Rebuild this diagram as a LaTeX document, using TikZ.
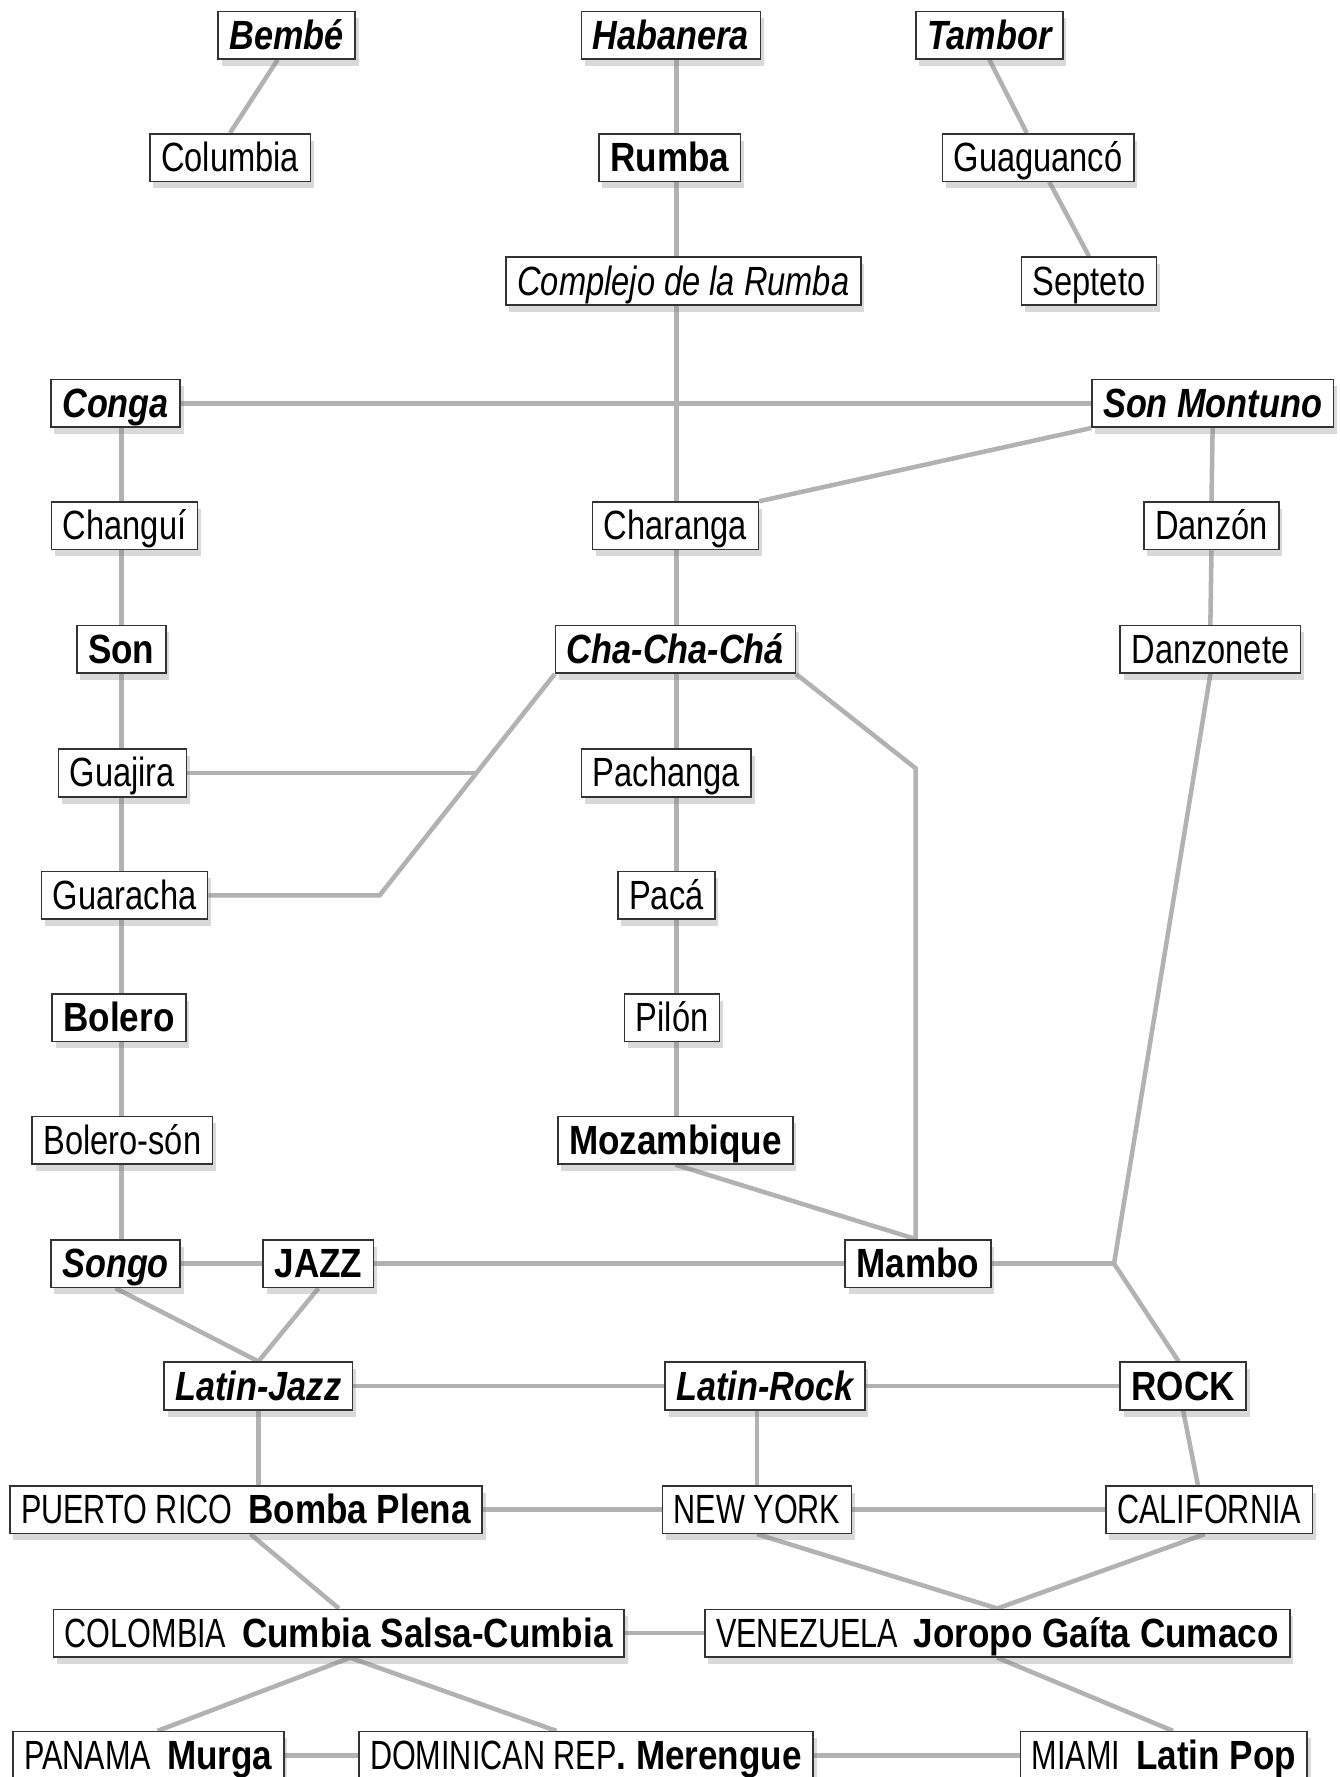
\documentclass[tikz,border=0pt]{standalone}
\usepackage{fontspec}
\setmainfont{Liberation Sans}[
  UprightFeatures={FakeStretch=0.8}, ItalicFeatures={FakeStretch=0.8},
  BoldFeatures={FakeStretch=0.86}, BoldItalicFeatures={FakeStretch=0.84}]
\newfontfamily\placefont{Liberation Sans}[FakeStretch=0.75]
\usetikzlibrary{shadows,backgrounds}

\newcommand\genrefont{\fontsize{18}{20}\selectfont}
\newcommand\region[1]{{\placefont #1}\hspace{7pt}}

\tikzset{
  genre/.style={draw=black!80, line width=0.7pt, fill=white, font=\genrefont,
    inner xsep=5pt, inner ysep=0pt, minimum height=21pt,
    text height=16.7pt, text depth=4.3pt,
    drop shadow={shadow xshift=1.5pt, shadow yshift=-3pt, opacity=0.3}},
  hub/.style={genre, font=\genrefont\bfseries},
  root/.style={genre, font=\genrefont\bfseries\itshape},
  era/.style={genre, font=\genrefont\itshape},
  place/.style={genre, font=\genrefont\placefont},
  link/.style={draw=black!30, line width=2pt},
}

\begin{document}
\begin{tikzpicture}[x=0.5pt, y=-0.5pt]
  \useasboundingbox (0,0) rectangle (1182,1568);

  % top rows
  \node[root] (bembe) at (253,31) {Bembé};
  \node[root] (habanera) at (592,31) {Habanera};
  \node[root] (tambor) at (873,31) {Tambor};
  \node[genre] (columbia) at (203,139) {Columbia};
  \node[hub] (rumba) at (591,139) {Rumba};
  \node[genre] (guaguanco) at (916,139) {Guaguancó};
  \node[era] (complejo) at (603,248) {Complejo de la Rumba};
  \node[genre] (septeto) at (961,248) {Septeto};

  % cuban branches
  \node[root] (conga) at (102,356) {Conga};
  \node[root] (sonmontuno) at (1070,356) {Son Montuno};
  \node[genre] (changui) at (110,464) {Changuí};
  \node[genre] (charanga) at (596,464) {Charanga};
  \node[genre] (danzon) at (1069,464) {Danzón};
  \node[hub] (son) at (107,573) {Son};
  \node[root] (chachacha) at (596,573) {Cha-Cha-Chá};
  \node[genre] (danzonete) at (1068,573) {Danzonete};
  \node[genre] (guajira) at (108,682) {Guajira};
  \node[genre] (pachanga) at (588,682) {Pachanga};
  \node[genre] (guaracha) at (110,790) {Guaracha};
  \node[genre] (paca) at (588,790) {Pacá};
  \node[hub] (bolero) at (105,898) {Bolero};
  \node[genre] (pilon) at (593,898) {Pilón};
  \node[genre] (bolerson) at (108,1006) {Bolero-són};
  \node[hub] (mozambique) at (596,1006) {Mozambique};
  \node[root] (songo) at (102,1115) {Songo};
  \node[hub] (jazz) at (281,1115) {JAZZ};
  \node[hub] (mambo) at (810,1115) {Mambo};

  % crossovers
  \node[root] (latinjazz) at (228,1223) {Latin-Jazz};
  \node[root] (latinrock) at (675,1223) {Latin-Rock};
  \node[hub] (rock) at (1044,1223) {ROCK};

  % places
  \node[genre] (puertorico) at (217,1332) {\region{PUERTO RICO}\textbf{Bomba Plena}};
  \node[place] (newyork) at (668,1332) {NEW YORK};
  \node[place] (california) at (1067,1332) {CALIFORNIA};
  \node[genre] (colombia) at (299,1441) {\region{COLOMBIA}\textbf{Cumbia Salsa-Cumbia}};
  \node[genre] (venezuela) at (880,1441) {\region{VENEZUELA}\textbf{Joropo Gaíta Cumaco}};
  \node[genre] (panama) at (131,1549) {\region{PANAMA}\textbf{Murga}};
  \node[genre] (dominican) at (517,1549) {{\placefont DOMINICAN REP}\textbf{. Merengue}};
  \node[genre] (miami) at (1027,1549) {\region{MIAMI}\textbf{Latin Pop}};

  \coordinate (spine) at (597,0);
  \coordinate (leftcol) at (107,0);
  \coordinate (guarbend) at (335,790);
  \coordinate (guajmeet) at (421,682);
  \coordinate (mambobend) at (808,678);
  \coordinate (rockjoin) at (983,1115);

  \begin{scope}[on background layer]
    \foreach \a/\b in {habanera/rumba, rumba/complejo, complejo/charanga,
        charanga/chachacha, chachacha/pachanga, pachanga/paca, paca/pilon,
        pilon/mozambique}
      \draw[link] (\a.south -| spine) -- (\b.north -| spine);
    \foreach \a/\b in {conga/changui, changui/son, son/guajira, guajira/guaracha,
        guaracha/bolero, bolero/bolerson, bolerson/songo}
      \draw[link] (\a.south -| leftcol) -- (\b.north -| leftcol);
    \foreach \a/\b in {conga/sonmontuno, songo/jazz, jazz/mambo,
        latinjazz/latinrock, latinrock/rock, puertorico/newyork,
        newyork/california, colombia/venezuela, panama/dominican,
        dominican/miami}
      \draw[link] (\a.east) -- (\b.west);

    \draw[link] ([xshift=-4pt]bembe.south) -- (columbia.north);
    \draw[link] (tambor.south) -- ([xshift=-5pt]guaguanco.north);
    \draw[link] ([xshift=5pt]guaguanco.south) -- (septeto.north);
    \draw[link] (sonmontuno.south) -- (danzon.north);
    \draw[link] (danzon.south) -- (danzonete.north);
    \draw[link] (sonmontuno.south west) -- (charanga.north east);
    \draw[link] (chachacha.south west) -- (guarbend) -- (guaracha.east);
    \draw[link] (guajira.east) -- (guajmeet);
    \draw[link] (chachacha.south east) -- (mambobend) -- (mambo.north -| mambobend);
    \draw[link] (mozambique.south) -- (mambo.north -| mambobend);
    \draw[link] (danzonete.south) -- (rockjoin) -- ([xshift=-2pt]rock.north);
    \draw[link] (mambo.east) -- (rockjoin);
    \draw[link] (songo.south) -- (latinjazz.north);
    \draw[link] (jazz.south) -- (latinjazz.north);
    \draw[link] (latinjazz.south) -- (latinjazz.south |- puertorico.north);
    \draw[link] (newyork.north |- latinrock.south) -- (newyork.north);
    \draw[link] (rock.south) -- ([xshift=-5pt]california.north);
    \draw[link] ([xshift=2pt]puertorico.south) -- (colombia.north);
    \draw[link] (newyork.south) -- (venezuela.north);
    \draw[link] ([xshift=-2pt]california.south) -- (venezuela.north);
    \draw[link] ([xshift=5pt]colombia.south) -- ([xshift=4pt]panama.north);
    \draw[link] ([xshift=5pt]colombia.south) -- ([xshift=-13pt]dominican.north);
    \draw[link] (venezuela.south) -- ([xshift=4pt]miami.north);
  \end{scope}
\end{tikzpicture}
\end{document}
